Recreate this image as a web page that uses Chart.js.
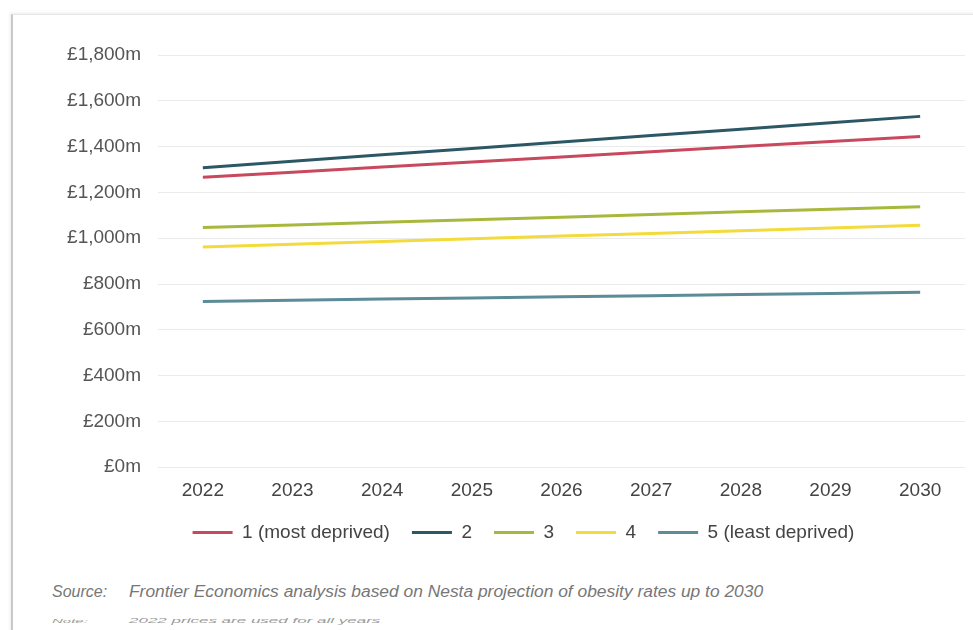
<!DOCTYPE html>
<html>
<head>
<meta charset="utf-8">
<script src="https://cdn.jsdelivr.net/npm/chart.js@4.4.1/dist/chart.umd.min.js"></script>
<style>
  html, body { margin: 0; padding: 0; background: #fff; overflow: hidden; }
  body { width: 973px; height: 630px; position: relative; font-family: "Liberation Sans", Arial, sans-serif; }
  #frame {
    position: absolute; left: 11px; top: 14px; width: 990px; height: 640px;
    border-left: 2px solid #c9c9c9; border-top: 1px solid #e6e6e6;
    box-shadow: -1px -1px 3px rgba(0,0,0,.08);
  }
  #wrap { position: absolute; left: 0; top: 0; width: 973px; height: 562px; }
  .note { position: absolute; left: 52px; color: #777; font-style: italic; white-space: nowrap; }
  .note span.lab { display: inline-block; width: 77px; }
  #source { top: 581px; font-size: 17.4px; }
  #source span.lab { font-size: 16px; }
  #note { top: 617px; font-size: 17px; color: #999; transform: scaleY(0.4); transform-origin: 0 0; }
  #note span.lab { font-size: 15px; }
</style>
</head>
<body>
<div id="frame"></div>
<div id="wrap"><canvas id="chart"></canvas></div>
<div class="note" id="source"><span class="lab">Source:</span>Frontier Economics analysis based on Nesta projection of obesity rates up to 2030</div>
<div class="note" id="note"><span class="lab">Note:</span>2022 prices are used for all years</div>
<script>
"use strict";

const YEARS = ["2022", "2023", "2024", "2025", "2026", "2027", "2028", "2029", "2030"];

// £m
const Q1_MOST = [1266, 1288, 1311, 1333, 1355, 1377, 1400, 1422, 1444];
const Q2      = [1308, 1336, 1364, 1392, 1420, 1448, 1476, 1504, 1532];
const Q3      = [1047, 1058, 1070, 1081, 1092, 1103, 1115, 1126, 1137];
const Q4      = [962, 974, 986, 998, 1010, 1021, 1033, 1045, 1057];
const Q5_LEAST = [724, 729, 734, 739, 744, 749, 754, 759, 764];

const SERIES_LABELS = ["1 (most deprived)", "2", "3", "4", "5 (least deprived)"];
const SERIES_COLORS = ["#c8485e", "#2c5764", "#a8b83c", "#f2db3a", "#5b8c98"];

const Y_TICKS = [0, 200, 400, 600, 800, 1000, 1200, 1400, 1600, 1800];

const FONT = "'Liberation Sans', Arial, sans-serif";

function fmtMoney(v) {
  return "£" + v.toLocaleString("en-GB") + "m";
}

const datasets = [Q1_MOST, Q2, Q3, Q4, Q5_LEAST].map((data, i) => ({
  label: SERIES_LABELS[i],
  data,
  borderColor: SERIES_COLORS[i],
  backgroundColor: SERIES_COLORS[i],
  borderWidth: 3,
  pointRadius: 0,
  pointStyle: "line",
  tension: 0,
}));

// The legend in the original sits a little right of the canvas centre:
// nudge the legend box after layout instead of widening the left padding
// (y tick labels are clipped to the axis box).
const legendNudge = {
  id: "legendNudge",
  afterLayout(chart) {
    if (chart.legend) chart.legend.left += 42;
  },
};

new Chart(document.getElementById("chart").getContext("2d"), {
  type: "line",
  data: { labels: YEARS, datasets },
  plugins: [legendNudge],
  options: {
    responsive: true,
    maintainAspectRatio: false,
    animation: false,
    layout: { padding: { left: 40, right: 8, top: 55, bottom: 10 } },
    plugins: {
      tooltip: { enabled: false },
      legend: {
        position: "bottom",
        labels: {
          usePointStyle: true,
          pointStyle: "line",
          pointStyleWidth: 40,
          padding: 22,
          color: "#444",
          font: { family: FONT, size: 19 },
        },
      },
    },
    scales: {
      x: {
        offset: true,
        afterFit: scale => { scale.height -= 13; },
        grid: { display: false, drawTicks: false },
        border: { display: false },
        ticks: { color: "#444", padding: 12, font: { family: FONT, size: 19 }, maxRotation: 0 },
      },
      y: {
        min: 0,
        max: 1800,
        afterFit: scale => { scale.width = 118; },
        afterBuildTicks: scale => { scale.ticks = Y_TICKS.map(v => ({ value: v })); },
        grid: { color: "#ebebeb", lineWidth: 1, drawTicks: false },
        border: { display: false },
        ticks: { color: "#555", padding: 17, font: { family: FONT, size: 19 }, callback: v => fmtMoney(v) },
      },
    },
  },
});
</script>
</body>
</html>
